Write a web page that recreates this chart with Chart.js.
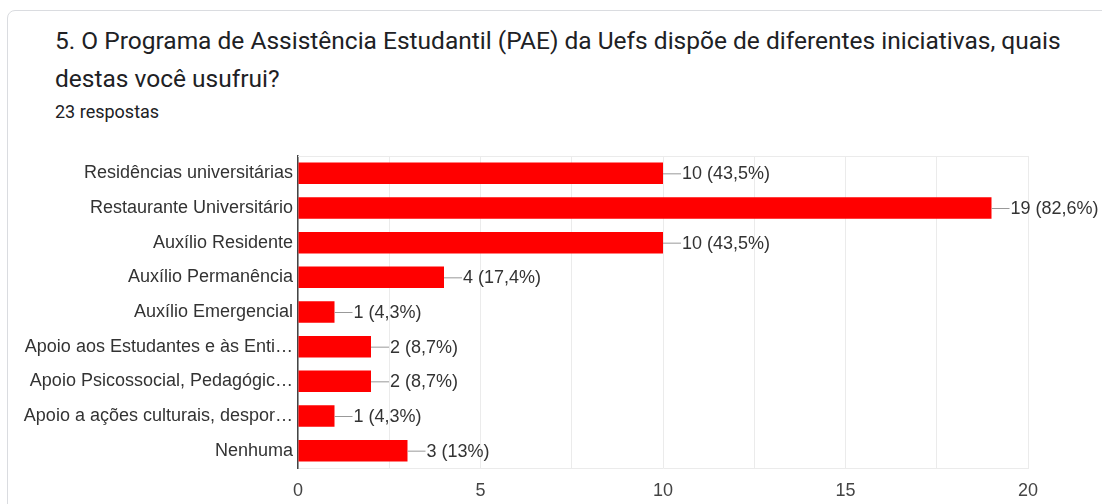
<!DOCTYPE html>
<html>
<head>
<meta charset="utf-8">
<script src="https://cdn.jsdelivr.net/npm/chart.js@4"></script>
<style>
  html, body { margin: 0; padding: 0; background: #fff; }
  body { width: 1102px; height: 504px; position: relative; overflow: hidden; font-family: Roboto, Arial, sans-serif; }
  .card { position: absolute; left: 7px; top: 10px; width: 1300px; height: 700px; border: 1px solid #dadce0; border-radius: 8px; }
  .title { position: absolute; left: 55px; top: 22px; font-size: 24.5px; line-height: 38px; color: #202124; white-space: nowrap; }
  .sub { position: absolute; left: 55px; top: 101px; font-size: 18px; color: #202124; }
  .chart-box { position: absolute; left: 0; top: 140px; width: 1102px; height: 364px; }
</style>
</head>
<body>
<div class="card"></div>
<div class="title">5. O Programa de Assistência Estudantil (PAE) da Uefs dispõe de diferentes iniciativas, quais<br>destas você usufrui?</div>
<div class="sub">23 respostas</div>
<div class="chart-box"><canvas id="chart"></canvas></div>
<script>
const totalRespostas = 23;
const categorias = [
  'Residências universitárias',
  'Restaurante Universitário',
  'Auxílio Residente',
  'Auxílio Permanência',
  'Auxílio Emergencial',
  'Apoio aos Estudantes e às Enti…',
  'Apoio Psicossocial, Pedagógic…',
  'Apoio a ações culturais, despor…',
  'Nenhuma',
];
const respostas = [10, 19, 10, 4, 1, 2, 2, 1, 3];
const ticksX = [0, 5, 10, 15, 20];

const chartFont = '"Liberation Sans", Arial, sans-serif';

function formatPct(v) {
  const pct = (v / totalRespostas * 100).toFixed(1).replace('.', ',').replace(/,0$/, '');
  return `${v} (${pct}%)`;
}

// draws the "—10 (43,5%)" labels at the end of each bar
const valueLabels = {
  id: 'valueLabels',
  afterDatasetsDraw(chart) {
    const { ctx } = chart;
    const meta = chart.getDatasetMeta(0);
    ctx.save();
    ctx.font = '18px ' + chartFont;
    ctx.textBaseline = 'middle';
    meta.data.forEach((bar, i) => {
      const x = bar.x;
      const y = bar.y;
      ctx.strokeStyle = '#999';
      ctx.lineWidth = 1;
      ctx.beginPath();
      ctx.moveTo(x, y + 0.5);
      ctx.lineTo(x + 18, y + 0.5);
      ctx.stroke();
      ctx.fillStyle = '#333';
      ctx.fillText(formatPct(respostas[i]), x + 19, y + 1);
    });
    ctx.restore();
  },
};

// top line of the plot frame
const frameTop = {
  id: 'frameTop',
  beforeDatasetsDraw(chart) {
    const { ctx, chartArea } = chart;
    ctx.save();
    ctx.strokeStyle = '#ebebeb';
    ctx.lineWidth = 1;
    ctx.beginPath();
    ctx.moveTo(chartArea.left, chartArea.top + 0.5);
    ctx.lineTo(chartArea.right, chartArea.top + 0.5);
    ctx.stroke();
    ctx.restore();
  },
};

new Chart(document.getElementById('chart'), {
  type: 'bar',
  data: {
    labels: categorias,
    datasets: [{
      data: respostas,
      backgroundColor: '#ff0000',
      borderWidth: 0,
      barPercentage: 0.62,
      categoryPercentage: 1,
    }],
  },
  options: {
    indexAxis: 'y',
    responsive: true,
    maintainAspectRatio: false,
    animation: false,
    layout: { padding: { top: 16, right: 74, left: 0, bottom: 0 } },
    plugins: {
      legend: { display: false },
      tooltip: { enabled: false },
    },
    scales: {
      x: {
        min: 0,
        max: 20,
        afterFit: (scale) => { scale.height = 36; },
        ticks: {
          stepSize: 2.5,
          autoSkip: false,
          maxRotation: 0,
          padding: 12,
          color: '#444',
          font: { family: chartFont, size: 18 },
          callback: (v) => (ticksX.includes(v) ? String(v) : ''),
        },
        grid: { color: '#ebebeb', drawTicks: false },
        border: { color: '#ebebeb' },
      },
      y: {
        afterFit: (scale) => { scale.width = 298; },
        ticks: {
          padding: 5,
          color: '#333',
          font: { family: chartFont, size: 18 },
        },
        grid: { display: false, drawTicks: false },
        border: { color: '#444', width: 1.5 },
      },
    },
  },
  plugins: [valueLabels, frameTop],
});
</script>
</body>
</html>
